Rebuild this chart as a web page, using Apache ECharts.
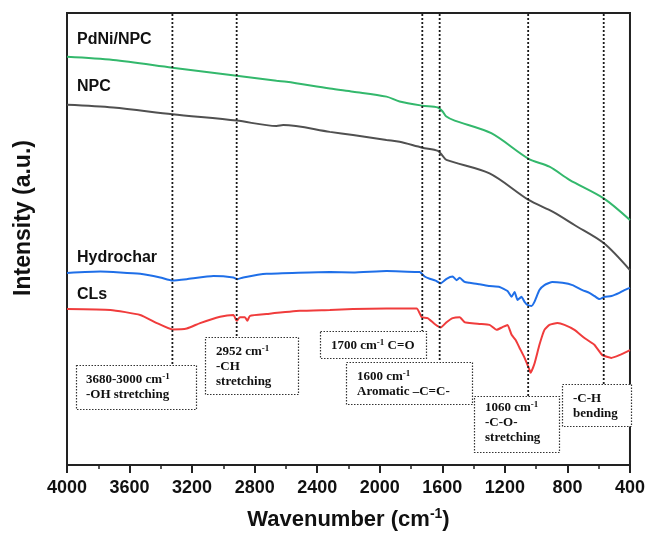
<!DOCTYPE html>
<html>
<head>
<meta charset="utf-8">
<script src="https://cdn.jsdelivr.net/npm/echarts@6/dist/echarts.min.js"></script>
<style>
  html, body { margin: 0; padding: 0; background: #ffffff; }
  #chart { width: 648px; height: 538px; }
</style>
</head>
<body>
<div id="chart"></div>
<script>
// FTIR spectra: wavenumber (cm-1) against intensity (a.u.)
const pdniWave = [4000, 3705, 3326, 2915, 2660, 2596, 2319, 2171, 1957, 1873, 1728, 1628, 1598, 1574, 1521, 1287, 1051, 915, 787, 568, 400];
const pdniVal  = [90.3, 89.6, 87.9, 86.1, 85.0, 84.8, 83.3, 82.6, 81.5, 80.4, 79.5, 79.1, 78.2, 77.1, 76.2, 73.4, 67.8, 66.0, 63.1, 59.0, 54.2];

const npcWave = [4000, 3705, 3326, 2915, 2660, 2617, 2319, 2171, 1957, 1873, 1728, 1628, 1598, 1574, 1298, 1051, 892, 755, 568, 400];
const npcVal  = [79.7, 79.1, 77.6, 76.2, 75.0, 75.2, 73.7, 73.0, 71.9, 71.5, 70.2, 69.5, 68.4, 67.5, 64.5, 58.7, 56.0, 53.1, 49.1, 43.1];

const hydroWave = [4000, 3787, 3532, 3404, 3326, 3234, 3064, 2936, 2911, 2873, 2724, 2319, 2171, 1957, 1764, 1745, 1713, 1681, 1643, 1611, 1573, 1534, 1509, 1489, 1458, 1426, 1362, 1298, 1234, 1183, 1157, 1138, 1119, 1094, 1074, 1055, 1030, 1011, 979, 947, 896, 832, 768, 704, 660, 628, 596, 564, 519, 468, 436, 400];
const hydroVal  = [42.5, 42.8, 42.3, 41.5, 40.8, 41.1, 41.8, 41.5, 41.1, 41.5, 42.3, 42.7, 42.6, 42.9, 42.7, 42.7, 41.7, 41.2, 40.8, 40.2, 41.2, 41.7, 40.9, 41.4, 40.5, 40.3, 40.0, 39.6, 39.4, 38.5, 37.2, 38.3, 36.5, 37.2, 36.1, 35.4, 35.2, 36.1, 38.7, 39.8, 40.5, 40.3, 39.8, 38.7, 38.1, 37.4, 36.7, 37.2, 37.4, 38.1, 38.7, 39.2];

const clsWave = [4000, 3723, 3532, 3425, 3326, 3234, 3149, 3021, 2936, 2915, 2894, 2862, 2847, 2830, 2724, 2511, 2319, 2171, 1957, 1764, 1745, 1732, 1694, 1649, 1611, 1573, 1534, 1489, 1458, 1426, 1362, 1298, 1253, 1215, 1183, 1157, 1132, 1106, 1074, 1042, 1036, 1011, 979, 947, 915, 864, 819, 755, 691, 628, 576, 519, 468, 400];
const clsVal  = [34.5, 34.3, 33.2, 31.4, 30.0, 30.2, 31.4, 32.8, 33.2, 31.9, 32.7, 32.7, 31.9, 33.0, 33.4, 34.1, 34.3, 34.5, 34.6, 34.6, 33.6, 32.7, 32.5, 31.2, 30.4, 31.6, 32.5, 32.7, 31.6, 31.4, 31.2, 31.0, 29.9, 30.5, 31.0, 28.8, 27.7, 25.9, 23.7, 21.0, 20.4, 22.4, 26.6, 29.9, 31.0, 31.4, 31.0, 29.9, 28.1, 26.6, 24.3, 23.7, 24.3, 25.4];

const seriesNames = ['PdNi/NPC', 'NPC', 'Hydrochar', 'CLs'];
const xTicks = [4000, 3600, 3200, 2800, 2400, 2000, 1600, 1200, 800, 400];

// band assignments: marker wavenumber and the text of each note
const peakWave = [3326, 2915, 1728, 1617, 1051, 568];
const bandNotes = [
  ['3680-3000 cm{sup|-1}', '-OH stretching'],
  ['2952 cm{sup|-1}', '-CH', 'stretching'],
  ['1700 cm{sup|-1} C=O'],
  ['1600 cm{sup|-1}', 'Aromatic \u2013C=C-'],
  ['1060 cm{sup|-1}', '-C-O-', 'stretching'],
  ['-C-H', 'bending']
];

// note boxes in pixels: [left, top, right, bottom, textLeft, textTop]
const noteBoxes = [
  [76, 365, 196, 409, 86, 372.5],
  [205, 337, 298, 394, 216, 344],
  [320, 331, 426, 358, 331, 338.5],
  [346, 362, 472, 404, 357, 369.5],
  [474, 396, 559, 452, 485, 400.5],
  [562, 384, 631, 426, 573, 391.5]
];

// series name tags: [left, centreY]
const nameTags = [[77, 40], [77, 87], [77, 258], [77, 295]];

const colors = ['#33b86c', '#505050', '#1f6fe8', '#f03c3c'];

function zip(w, v) { return w.map((x, i) => [x, v[i]]); }

const chart = echarts.init(document.getElementById('chart'), null, { renderer: 'canvas' });

const GRID = { left: 67, right: 17, top: 13, bottom: 73 };

chart.setOption({
  animation: false,
  backgroundColor: '#ffffff',
  grid: { left: GRID.left, right: GRID.right, top: GRID.top, bottom: GRID.bottom, show: true, borderColor: '#222222', borderWidth: 2, backgroundColor: 'transparent' },
  xAxis: {
    type: 'value',
    inverse: true,
    min: 400,
    max: 4000,
    interval: 400,
    axisLine: { show: true, lineStyle: { color: '#222222', width: 2 } },
    axisTick: { show: true, inside: false, length: 8, lineStyle: { color: '#222222', width: 2 } },
    minorTick: { show: true, splitNumber: 2, length: 4, lineStyle: { color: '#222222', width: 1.5 } },
    splitLine: { show: false },
    axisLabel: {
      margin: 14,
      color: '#111111',
      fontFamily: 'Liberation Sans, Arial, sans-serif',
      fontWeight: 'bold',
      fontSize: 18,
      formatter: v => (xTicks.indexOf(v) >= 0 ? String(v) : '')
    },
    name: 'Wavenumber (cm{sup|-1})',
    nameLocation: 'middle',
    nameGap: 42,
    nameTextStyle: {
      color: '#111111',
      fontFamily: 'Liberation Sans, Arial, sans-serif',
      fontWeight: 'bold',
      fontSize: 22,
      lineHeight: 26,
      rich: {
        sup: { fontFamily: 'Liberation Sans, Arial, sans-serif', fontWeight: 'bold', fontSize: 14, lineHeight: 14, verticalAlign: 'top', color: '#111111' }
      }
    }
  },
  yAxis: {
    type: 'value',
    min: 0,
    max: 100,
    axisLine: { show: true, lineStyle: { color: '#222222', width: 2 } },
    axisTick: { show: false },
    axisLabel: { show: false },
    splitLine: { show: false }
  },
  series: [
    { name: seriesNames[0], type: 'line', data: zip(pdniWave, pdniVal), smooth: 0.3, showSymbol: false, lineStyle: { color: colors[0], width: 2 }, z: 3 },
    { name: seriesNames[1], type: 'line', data: zip(npcWave, npcVal), smooth: 0.3, showSymbol: false, lineStyle: { color: colors[1], width: 2 }, z: 3 },
    { name: seriesNames[2], type: 'line', data: zip(hydroWave, hydroVal), smooth: 0.15, showSymbol: false, lineStyle: { color: colors[2], width: 2 }, z: 3 },
    { name: seriesNames[3], type: 'line', data: zip(clsWave, clsVal), smooth: 0.15, showSymbol: false, lineStyle: { color: colors[3], width: 2 }, z: 3 }
  ]
});

// dotted guides, note boxes, tags and the intensity title
const noteFont = { fontFamily: 'Liberation Serif, Times New Roman, serif', fontWeight: 'bold', fontSize: 13, lineHeight: 15 };
const graphics = [];

peakWave.forEach((w, i) => {
  const px = chart.convertToPixel({ xAxisIndex: 0 }, w);
  const box = noteBoxes[i];
  graphics.push({
    type: 'line',
    shape: { x1: px, y1: GRID.top + 1, x2: px, y2: box[1] },
    style: { stroke: '#1a1a1a', lineWidth: 1.8, lineDash: [2, 2] },
    z: 10
  });
  graphics.push({
    type: 'rect',
    shape: { x: box[0] + 0.5, y: box[1] + 0.5, width: box[2] - box[0], height: box[3] - box[1] },
    style: { fill: '#ffffff', stroke: '#333333', lineWidth: 1.2, lineDash: [1.5, 1.5] },
    z: 10
  });
  graphics.push({
    type: 'text',
    x: box[4],
    y: box[5],
    style: {
      text: bandNotes[i].join('\n'),
      fill: '#111111',
      fontFamily: noteFont.fontFamily,
      fontWeight: noteFont.fontWeight,
      fontSize: noteFont.fontSize,
      lineHeight: noteFont.lineHeight,
      align: 'left',
      verticalAlign: 'top',
      rich: {
        sup: { fontFamily: noteFont.fontFamily, fontWeight: 'bold', fontSize: 9, lineHeight: 11, verticalAlign: 'top', fill: '#111111' }
      }
    },
    z: 11
  });
});

seriesNames.forEach((n, i) => {
  graphics.push({
    type: 'text',
    x: nameTags[i][0],
    y: nameTags[i][1],
    style: {
      text: n,
      fill: '#111111',
      fontFamily: 'Liberation Sans, Arial, sans-serif',
      fontWeight: 'bold',
      fontSize: 16,
      align: 'left',
      verticalAlign: 'middle'
    },
    z: 11
  });
});

graphics.push({
  type: 'text',
  x: 24,
  y: 218,
  rotation: Math.PI / 2,
  style: {
    text: 'Intensity (a.u.)',
    fill: '#111111',
    fontFamily: 'Liberation Sans, Arial, sans-serif',
    fontWeight: 'bold',
    fontSize: 23,
    align: 'center',
    verticalAlign: 'middle'
  },
  z: 11
});

chart.setOption({ graphic: graphics });
</script>
</body>
</html>
